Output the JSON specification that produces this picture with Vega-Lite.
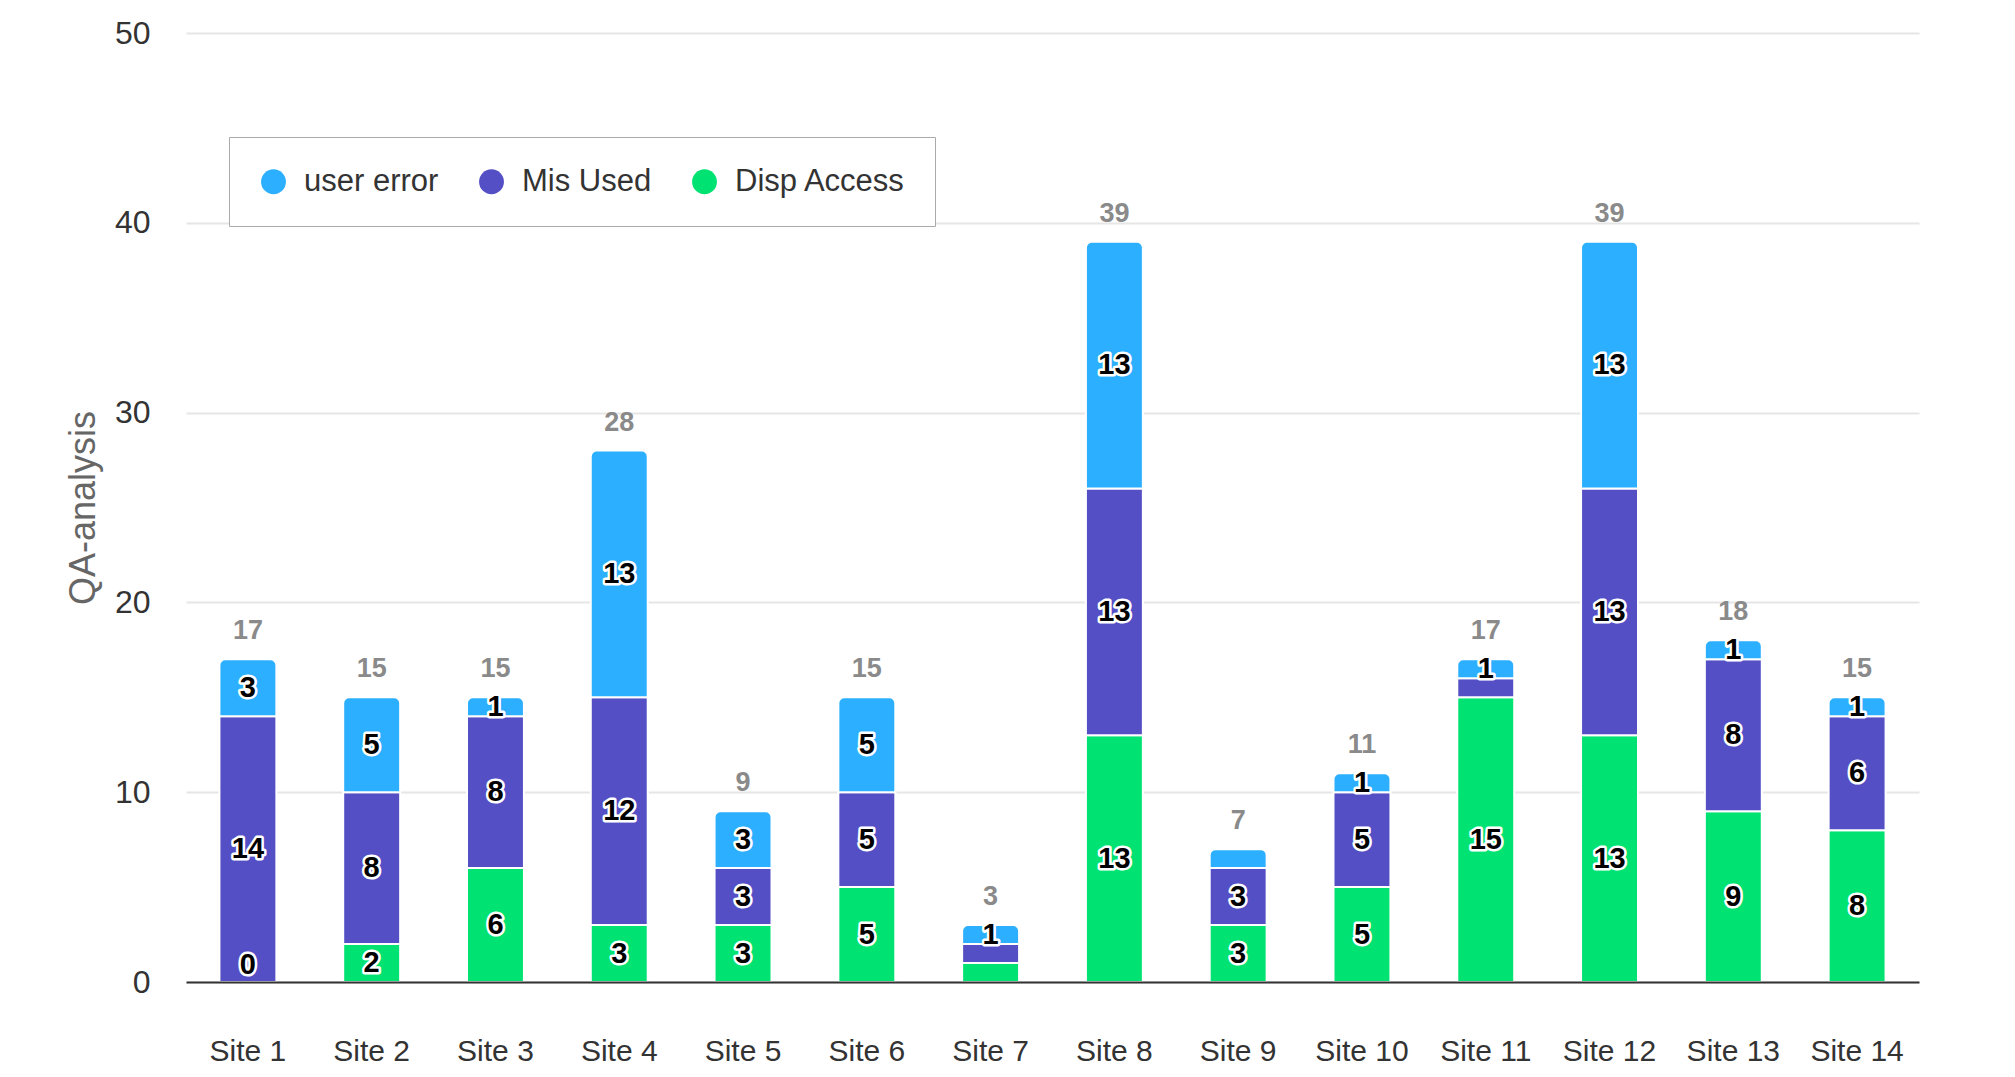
{
  "$schema": "https://vega.github.io/schema/vega-lite/v6.json",
  "width": 1733,
  "height": 949,
  "autosize": {"type": "none"},
  "padding": {"left": 186, "top": 33, "right": 96, "bottom": 95},
  "background": "white",
  "config": {
    "view": {"stroke": null},
    "font": "Liberation Sans",
    "legend": {
      "orient": "none",
      "legendX": 43,
      "legendY": 104,
      "direction": "horizontal",
      "symbolType": "circle",
      "symbolSize": 620,
      "symbolStrokeWidth": 0,
      "labelFont": "Liberation Sans",
      "labelFontSize": 31,
      "labelColor": "#333333",
      "labelLimit": 400,
      "strokeColor": "#aaaaaa",
      "fillColor": "white",
      "padding": 29,
      "columnPadding": 37,
      "labelOffset": 15
    }
  },
  "data": {
    "values": [
      {"site": "Site 1", "cat": "Disp Access", "value": 0},
      {"site": "Site 1", "cat": "Mis Used", "value": 14},
      {"site": "Site 1", "cat": "user error", "value": 3},
      {"site": "Site 2", "cat": "Disp Access", "value": 2},
      {"site": "Site 2", "cat": "Mis Used", "value": 8},
      {"site": "Site 2", "cat": "user error", "value": 5},
      {"site": "Site 3", "cat": "Disp Access", "value": 6},
      {"site": "Site 3", "cat": "Mis Used", "value": 8},
      {"site": "Site 3", "cat": "user error", "value": 1},
      {"site": "Site 4", "cat": "Disp Access", "value": 3},
      {"site": "Site 4", "cat": "Mis Used", "value": 12},
      {"site": "Site 4", "cat": "user error", "value": 13},
      {"site": "Site 5", "cat": "Disp Access", "value": 3},
      {"site": "Site 5", "cat": "Mis Used", "value": 3},
      {"site": "Site 5", "cat": "user error", "value": 3},
      {"site": "Site 6", "cat": "Disp Access", "value": 5},
      {"site": "Site 6", "cat": "Mis Used", "value": 5},
      {"site": "Site 6", "cat": "user error", "value": 5},
      {"site": "Site 7", "cat": "Disp Access", "value": 1},
      {"site": "Site 7", "cat": "Mis Used", "value": 1},
      {"site": "Site 7", "cat": "user error", "value": 1},
      {"site": "Site 8", "cat": "Disp Access", "value": 13},
      {"site": "Site 8", "cat": "Mis Used", "value": 13},
      {"site": "Site 8", "cat": "user error", "value": 13},
      {"site": "Site 9", "cat": "Disp Access", "value": 3},
      {"site": "Site 9", "cat": "Mis Used", "value": 3},
      {"site": "Site 9", "cat": "user error", "value": 1},
      {"site": "Site 10", "cat": "Disp Access", "value": 5},
      {"site": "Site 10", "cat": "Mis Used", "value": 5},
      {"site": "Site 10", "cat": "user error", "value": 1},
      {"site": "Site 11", "cat": "Disp Access", "value": 15},
      {"site": "Site 11", "cat": "Mis Used", "value": 1},
      {"site": "Site 11", "cat": "user error", "value": 1},
      {"site": "Site 12", "cat": "Disp Access", "value": 13},
      {"site": "Site 12", "cat": "Mis Used", "value": 13},
      {"site": "Site 12", "cat": "user error", "value": 13},
      {"site": "Site 13", "cat": "Disp Access", "value": 9},
      {"site": "Site 13", "cat": "Mis Used", "value": 8},
      {"site": "Site 13", "cat": "user error", "value": 1},
      {"site": "Site 14", "cat": "Disp Access", "value": 8},
      {"site": "Site 14", "cat": "Mis Used", "value": 6},
      {"site": "Site 14", "cat": "user error", "value": 1}
    ]
  },
  "transform": [
    {"calculate": "indexof(['Disp Access','Mis Used','user error'], datum.cat)", "as": "ord"},
    {"stack": "value", "groupby": ["site"], "sort": [{"field": "ord", "order": "ascending"}], "as": ["y0", "y1"]}
  ],
  "encoding": {
    "x": {
      "field": "site",
      "type": "nominal",
      "sort": null,
      "scale": {"paddingInner": 0.54, "paddingOuter": 0.27},
      "axis": {
        "title": null,
        "labelAngle": 0,
        "labelFont": "Liberation Sans",
        "labelFontSize": 30,
        "labelColor": "#333333",
        "labelPadding": 54,
        "ticks": false,
        "domain": true,
        "domainColor": "#333333",
        "domainWidth": 2,
        "grid": false,
        "zindex": 1
      }
    }
  },
  "layer": [
    {
      "transform": [{"filter": "datum.cat != 'user error' && datum.value > 0"}],
      "mark": {"type": "bar", "stroke": "white", "strokeWidth": 2},
      "encoding": {
        "y": {
          "field": "y1",
          "type": "quantitative",
          "scale": {"domain": [0, 50], "nice": false},
          "axis": {
            "title": "QA-analysis",
            "titleFont": "Liberation Sans",
            "titleFontSize": 36,
            "titleFontWeight": "normal",
            "titleColor": "#666666",
            "titlePadding": 12,
            "values": [0, 10, 20, 30, 40, 50],
            "labelFont": "Liberation Sans",
            "labelFontSize": 32,
            "labelColor": "#333333",
            "labelPadding": 36,
            "ticks": false,
            "domain": false,
            "gridColor": "#e6e6e6",
            "gridWidth": 2
          }
        },
        "y2": {"field": "y0"},
        "color": {
          "field": "cat",
          "type": "nominal",
          "title": null,
          "scale": {"domain": ["user error", "Mis Used", "Disp Access"], "range": ["#2caffe", "#544fc5", "#00e272"]}
        }
      }
    },
    {
      "transform": [{"filter": "datum.cat == 'user error' && datum.value > 0"}],
      "mark": {"type": "bar", "stroke": "white", "strokeWidth": 2, "cornerRadiusTopLeft": 6, "cornerRadiusTopRight": 6},
      "encoding": {
        "y": {"field": "y1", "type": "quantitative"},
        "y2": {"field": "y0"},
        "color": {"field": "cat", "type": "nominal", "title": null}
      }
    },
    {
      "transform": [{"aggregate": [{"op": "sum", "field": "value", "as": "total"}], "groupby": ["site"]}],
      "mark": {"type": "text", "baseline": "alphabetic", "dy": -20, "font": "Liberation Sans", "fontSize": 27, "fontWeight": "bold", "color": "#8a8a8a"},
      "encoding": {
        "y": {"field": "total", "type": "quantitative"},
        "text": {"field": "total", "type": "quantitative"}
      }
    },
    {
      "transform": [
        {"filter": "!((datum.site == 'Site 7' && datum.cat != 'user error') || (datum.site == 'Site 9' && datum.cat == 'user error') || (datum.site == 'Site 11' && datum.cat == 'Mis Used'))"},
        {"calculate": "datum.value == 0 ? datum.y0 + 0.9 : (datum.y0 + datum.y1) / 2", "as": "mid"}
      ],
      "mark": {"type": "text", "baseline": "middle", "font": "Liberation Sans", "fontSize": 29, "fontWeight": "bold", "fill": "black", "stroke": "white", "strokeWidth": 5, "strokeJoin": "round"},
      "encoding": {
        "y": {"field": "mid", "type": "quantitative"},
        "text": {"field": "value", "type": "quantitative"}
      }
    },
    {
      "transform": [
        {"filter": "!((datum.site == 'Site 7' && datum.cat != 'user error') || (datum.site == 'Site 9' && datum.cat == 'user error') || (datum.site == 'Site 11' && datum.cat == 'Mis Used'))"},
        {"calculate": "datum.value == 0 ? datum.y0 + 0.9 : (datum.y0 + datum.y1) / 2", "as": "mid"}
      ],
      "mark": {"type": "text", "baseline": "middle", "font": "Liberation Sans", "fontSize": 29, "fontWeight": "bold", "fill": "black"},
      "encoding": {
        "y": {"field": "mid", "type": "quantitative"},
        "text": {"field": "value", "type": "quantitative"}
      }
    }
  ]
}
